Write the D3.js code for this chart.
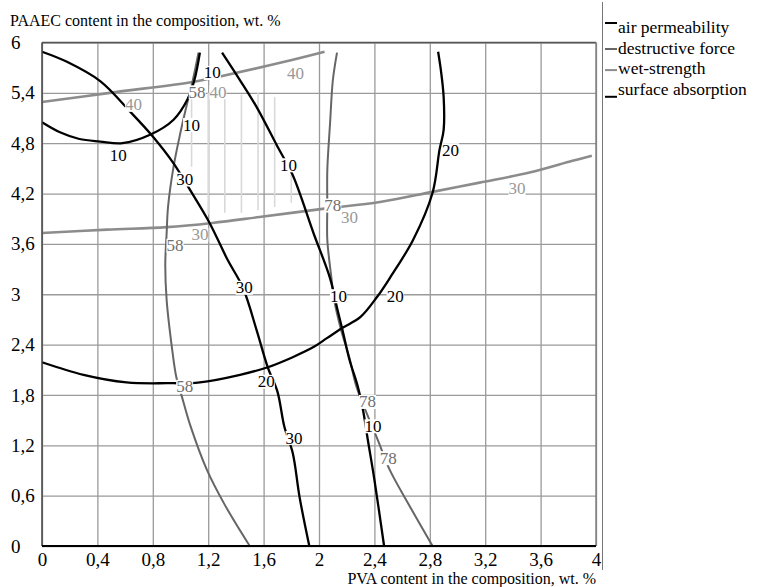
<!DOCTYPE html>
<html>
<head>
<meta charset="utf-8">
<script src="https://cdn.jsdelivr.net/npm/d3@7"></script>
<style>
  body { margin: 0; background: #fff; }
  svg text { font-family: "Liberation Serif", "Times New Roman", serif; }
</style>
</head>
<body>
<div id="plot"></div>
<script>
// axis ticks
const xTicks = [0, 0.4, 0.8, 1.2, 1.6, 2, 2.4, 2.8, 3.2, 3.6, 4];
const yTicks = [0, 0.6, 1.2, 1.8, 2.4, 3, 3.6, 4.2, 4.8, 5.4, 6];

// air permeability contours (black)
const airPerm10a = [[0,5.05],[0.13,4.93],[0.27,4.85],[0.42,4.82],[0.58,4.80],[0.78,4.90],[0.95,5.08],[1.05,5.32],[1.10,5.55],[1.14,5.88]];
const airPerm10b = [[1.30,5.88],[1.43,5.55],[1.55,5.23],[1.70,4.76],[1.81,4.42],[1.96,3.73],[2.08,3.19],[2.13,2.84],[2.17,2.57],[2.22,2.22],[2.28,1.90],[2.32,1.60],[2.35,1.29],[2.40,0.79],[2.47,0]];

// surface absorption contours (black)
const surf20 = [[0,2.19],[0.30,2.04],[0.61,1.95],[0.90,1.94],[1.14,1.95],[1.43,2.04],[1.63,2.13],[1.81,2.25],[1.96,2.37],[2.06,2.48],[2.17,2.60],[2.30,2.73],[2.42,2.97],[2.51,3.19],[2.68,3.65],[2.82,4.21],[2.87,4.72],[2.90,4.96],[2.90,5.35],[2.88,5.67],[2.86,5.89]];
const surf30 = [[0,5.89],[0.18,5.77],[0.42,5.54],[0.64,5.17],[0.80,4.88],[0.95,4.56],[1.07,4.24],[1.21,3.85],[1.34,3.41],[1.45,3.08],[1.55,2.57],[1.63,2.13],[1.70,1.84],[1.75,1.42],[1.81,1.11],[1.86,0.58],[1.93,0]];

// destructive force contours (dark grey)
const force58 = [[1.13,5.88],[1.09,5.56],[1.04,5.22],[1.00,4.93],[0.95,4.52],[0.91,4.04],[0.90,3.73],[0.89,3.35],[0.90,2.93],[0.94,2.34],[0.97,2.01],[1.01,1.78],[1.07,1.44],[1.19,0.91],[1.32,0.49],[1.50,0]];
const force78 = [[2.13,5.88],[2.10,5.55],[2.08,5.04],[2.06,4.48],[2.06,4.04],[2.06,3.65],[2.09,3.19],[2.11,2.93],[2.16,2.57],[2.22,2.24],[2.27,1.90],[2.35,1.56],[2.43,1.24],[2.51,0.91],[2.66,0.46],[2.82,0]];

// wet-strength contours (light grey)
const wet40 = [[0,5.29],[0.49,5.40],[1.09,5.53],[1.27,5.59],[1.75,5.77],[2.04,5.89]];
const wet30 = [[0,3.73],[0.47,3.77],[0.90,3.80],[1.23,3.85],[1.57,3.92],[2.04,4.02],[2.44,4.10],[2.82,4.22],[3.16,4.33],[3.52,4.45],[3.83,4.59],[3.97,4.65]];

// hatched optimum region: x, top, bottom
const hatchX = [1.08, 1.20, 1.32, 1.44, 1.56, 1.68, 1.80];
const hatchTop = [5.35, 5.40, 5.38, 5.38, 5.40, 5.35, 4.45];
const hatchBottom = [4.52, 3.95, 3.97, 3.97, 4.00, 4.04, 4.09];

// contour labels: text, x, y
const blackLabels = [["10",0.55,4.66],["10",1.08,5.02],["10",1.23,5.64],["30",1.03,4.37],["30",1.46,3.08],["30",1.82,1.29],
  ["10",1.78,4.54],["10",2.14,2.98],["10",2.39,1.43],["20",1.62,1.96],["20",2.55,2.98],["20",2.95,4.72]];
const forceLabels = [["58",1.12,5.41],["58",0.96,3.58],["58",1.03,1.90],["78",2.10,4.06],["78",2.35,1.72],["78",2.50,1.05]];
const wetLabels = [["40",0.66,5.26],["40",1.27,5.41],["40",1.83,5.63],["30",1.14,3.71],["30",2.22,3.92],["30",3.43,4.26]];

const legendNames = ["air permeability", "destructive force", "wet-strength", "surface absorption"];
const legendColors = ["#000", "#666", "#8c8c8c", "#000"];

const width = 757, height = 587;
const plotLeft = 42, plotRight = 596, plotTop = 42.5, plotBottom = 546;
const serif = "'Liberation Serif', 'Times New Roman', serif";

const svg = d3.select("#plot").append("svg")
  .attr("width", width)
  .attr("height", height);

const x = d3.scaleLinear().domain([0, 4]).range([plotLeft, plotRight]);
const y = d3.scaleLinear().domain([0, 6]).range([plotBottom, plotTop]);
const fmt = d => d3.format(".1~f")(d).replace(".", ",");

// grid + tick labels
const gx = svg.append("g")
  .attr("transform", `translate(0,${plotBottom})`)
  .call(d3.axisBottom(x).tickValues(xTicks).tickFormat(fmt).tickSize(-(plotBottom - plotTop)).tickPadding(7));
const gy = svg.append("g")
  .attr("transform", `translate(${plotLeft},0)`)
  .call(d3.axisLeft(y).tickValues(yTicks).tickFormat(fmt).tickSize(-(plotRight - plotLeft)).tickPadding(8));
[gx, gy].forEach(g => {
  g.select(".domain").remove();
  g.attr("font-family", serif);
  g.selectAll(".tick line").attr("stroke", "#9a9a9a").attr("stroke-width", 1.3);
  g.selectAll(".tick text").attr("fill", "#000").style("font-size", "19px")
    .style("font-family", serif);
});
gy.selectAll(".tick text").attr("text-anchor", "start").attr("x", -31);

// hatching
svg.append("g").selectAll("line")
  .data(hatchX)
  .join("line")
  .attr("x1", d => x(d)).attr("x2", d => x(d))
  .attr("y1", (d, i) => y(hatchTop[i]))
  .attr("y2", (d, i) => y(hatchBottom[i]))
  .attr("stroke", "#d9d9d9")
  .attr("stroke-width", 1.6);

const line = d3.line()
  .x(d => x(d[0]))
  .y(d => y(d[1]))
  .curve(d3.curveCatmullRom.alpha(0.5));

function drawCurve(data, color, w) {
  svg.append("path")
    .datum(data)
    .attr("d", line)
    .attr("fill", "none")
    .attr("stroke", color)
    .attr("stroke-width", w)
    .attr("stroke-linejoin", "round");
}

drawCurve(wet40, "#8c8c8c", 2.6);
drawCurve(wet30, "#8c8c8c", 2.6);
drawCurve(force58, "#666", 2);
drawCurve(force78, "#666", 2);
drawCurve(airPerm10a, "#000", 2.3);
drawCurve(airPerm10b, "#000", 2.3);
drawCurve(surf20, "#000", 2.3);
drawCurve(surf30, "#000", 2.3);

function drawLabels(list, color) {
  list.forEach(function(d) {
    const g = svg.append("g");
    const t = g.append("text")
      .attr("x", x(d[1]))
      .attr("y", y(d[2]))
      .attr("text-anchor", "middle")
      .attr("dy", "0.34em")
      .style("font-size", "17px")
      .style("font-family", serif)
      .attr("fill", color)
      .text(d[0]);
    const b = t.node().getBBox();
    g.insert("rect", "text")
      .attr("x", b.x)
      .attr("y", b.y + 2.5)
      .attr("width", b.width)
      .attr("height", b.height - 5)
      .attr("fill", "#fff");
  });
}

drawLabels(forceLabels, "#6e6e6e");
drawLabels(wetLabels, "#999");
drawLabels(blackLabels, "#000");

// frame
svg.append("line").attr("x1", plotLeft).attr("x2", plotRight).attr("y1", plotTop).attr("y2", plotTop)
  .attr("stroke", "#555").attr("stroke-width", 1.5);
svg.append("line").attr("x1", plotRight).attr("x2", plotRight).attr("y1", plotTop).attr("y2", plotBottom)
  .attr("stroke", "#777").attr("stroke-width", 1.3);
svg.append("line").attr("x1", plotLeft).attr("x2", plotLeft).attr("y1", plotTop).attr("y2", plotBottom)
  .attr("stroke", "#444").attr("stroke-width", 1.5);
svg.append("line").attr("x1", plotLeft).attr("x2", plotRight).attr("y1", plotBottom).attr("y2", plotBottom)
  .attr("stroke", "#000").attr("stroke-width", 2);

// axis titles
svg.append("text")
  .attr("x", 10).attr("y", 26)
  .style("font-size", "16px")
  .text("PAAEC content in the composition, wt. %");
svg.append("text")
  .attr("x", 596).attr("y", 584)
  .attr("text-anchor", "end")
  .style("font-size", "16px")
  .text("PVA content in the composition, wt. %");

// legend
svg.append("line").attr("x1", 602.5).attr("x2", 602.5).attr("y1", 2).attr("y2", 570)
  .attr("stroke", "#777").attr("stroke-width", 1);
const markDy = [-10, -4.7, -4.3, 1.7];
const leg = svg.append("g").selectAll("g")
  .data(legendNames)
  .join("g")
  .attr("transform", (d, i) => `translate(605,${33 + i * 20.7})`);
leg.append("line")
  .attr("x1", 0).attr("x2", 12)
  .attr("y1", (d, i) => markDy[i]).attr("y2", (d, i) => markDy[i])
  .attr("stroke", (d, i) => legendColors[i])
  .attr("stroke-width", 2);
leg.append("text")
  .attr("x", 13)
  .style("font-size", "17.5px")
  .text(d => d);
</script>
</body>
</html>
